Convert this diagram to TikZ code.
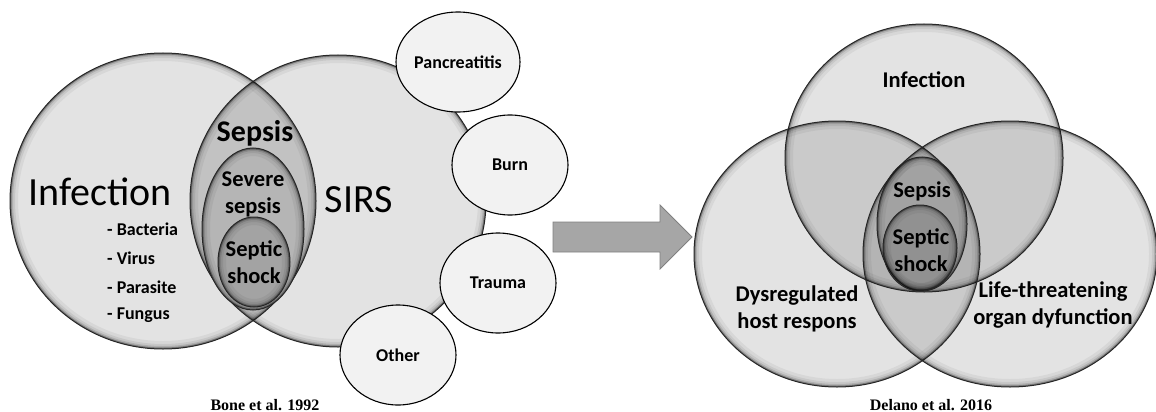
\documentclass[tikz,border=0pt]{standalone}
\usepackage{fontspec}
\setmainfont{Carlito}
\newfontfamily\capfont{Liberation Serif}
\usetikzlibrary{shapes.geometric}
\newcommand\bev[4]{%
  \begin{scope}
    \clip (#1,#2) ellipse [x radius=#3pt, y radius=#4pt];
    \draw[line width=16pt, black, opacity=0.05] (#1,#2) ellipse [x radius=#3pt, y radius=#4pt];
    \draw[line width=10pt, black, opacity=0.07] (#1,#2) ellipse [x radius=#3pt, y radius=#4pt];
    \draw[line width=6pt, black, opacity=0.12] (#1,#2) ellipse [x radius=#3pt, y radius=#4pt];
    \draw[line width=3pt, black, opacity=0.3] (#1,#2) ellipse [x radius=#3pt, y radius=#4pt];
  \end{scope}
  \draw[line width=1pt, black!85] (#1,#2) ellipse [x radius=#3pt, y radius=#4pt];
}
\tikzset{
  big/.style={font=\fontsize{40}{44}\selectfont, inner sep=0pt},
  lbl/.style={font=\bfseries\fontsize{22.5}{27}\selectfont, align=center, inner sep=0pt},
  small/.style={font=\bfseries\fontsize{18}{22}\selectfont, inner sep=0pt},
  captxt/.style={font=\capfont\bfseries\fontsize{16}{18}\selectfont, inner sep=0pt},
  smallell/.style={draw=black, line width=1.1pt, fill=black!5},
}
\begin{document}
\begin{tikzpicture}[x=1pt,y=-1pt]
\useasboundingbox (0,0) rectangle (1156,412);
% ---------------- left diagram ----------------
\fill[black!11] (163,201) ellipse [x radius=153pt, y radius=148pt];
\fill[black!11] (338,201) ellipse [x radius=148pt, y radius=146pt];
\begin{scope}
  \clip (163,201) ellipse [x radius=153pt, y radius=148pt];
  \fill[black!24] (338,201) ellipse [x radius=148pt, y radius=146pt];
\end{scope}
\bev{163}{201}{153}{148}
\bev{338}{201}{148}{146}
\fill[black!29] (253,229) ellipse [x radius=51pt, y radius=81pt];
\bev{253}{229}{51}{81}
\fill[black!36] (254,262) ellipse [x radius=36pt, y radius=45pt];
\bev{254}{262}{36}{45}

\node[big] (infL) at (100,192) {Infection};
\node[big] (sirs) at (359,200) {SIRS};
\node[small, anchor=west] (bac) at (107,229) {- Bacteria};
\node[small, anchor=west] (vir) at (107,258) {- Virus};
\node[small, anchor=west] (par) at (107,287) {- Parasite};
\node[small, anchor=west] (fun) at (107,315) {- Fungus};
\node[lbl, font=\bfseries\fontsize{30}{34}\selectfont] (sepL) at (255,133) {Sepsis};
\node[lbl] (sevL) at (253,194) {Severe\\sepsis};
\node[lbl] (shockL) at (254,262) {Septic\\shock};

% small cause ellipses
\draw[smallell] (458,62) ellipse [x radius=62pt, y radius=50pt];
\node[small] (panc) at (458,62) {Pancreatitis};
\draw[smallell] (510,165) ellipse [x radius=58pt, y radius=50pt];
\node[small] (burn) at (510,165) {Burn};
\draw[smallell] (498,283) ellipse [x radius=58pt, y radius=50pt];
\node[small] (trauma) at (498,283) {Trauma};
\draw[smallell] (398,355) ellipse [x radius=58pt, y radius=50pt];
\node[small] (other) at (398,355) {Other};

\node[captxt] (capL) at (265,405) {Bone et al. 1992};

% ---------------- arrow ----------------
\draw[fill=black!35, draw=black!50, line width=0.8pt]
  (553,222) -- (660,222) -- (660,205) -- (692,237) -- (660,269) -- (660,252) -- (553,252) -- cycle;

% ---------------- right diagram ----------------
\fill[black, fill opacity=0.11] (924,158) ellipse [x radius=139pt, y radius=134pt];
\fill[black, fill opacity=0.11] (837,254) ellipse [x radius=143pt, y radius=133pt];
\fill[black, fill opacity=0.11] (1010,254) ellipse [x radius=147pt, y radius=133pt];
\bev{924}{158}{139}{134}
\bev{837}{254}{143}{133}
\bev{1010}{254}{147}{133}
\fill[black, fill opacity=0.1] (922,224) ellipse [x radius=45pt, y radius=67pt];
\bev{922}{224}{45}{67}
\fill[black, fill opacity=0.1] (920,248) ellipse [x radius=37pt, y radius=43pt];
\bev{920}{248}{37}{43}

\node[lbl] (infR) at (924,80) {Infection};
\node[lbl] (sepR) at (922,191) {Sepsis};
\node[lbl] (shockR) at (921,250) {Septic\\shock};
\node[lbl] (dys) at (797,309) {Dysregulated\\host respons};
\node[lbl] (life) at (1053,305) {Life-threatening\\organ dyfunction};

\node[captxt] (capR) at (931,405) {Delano et al. 2016};
\end{tikzpicture}
\end{document}
